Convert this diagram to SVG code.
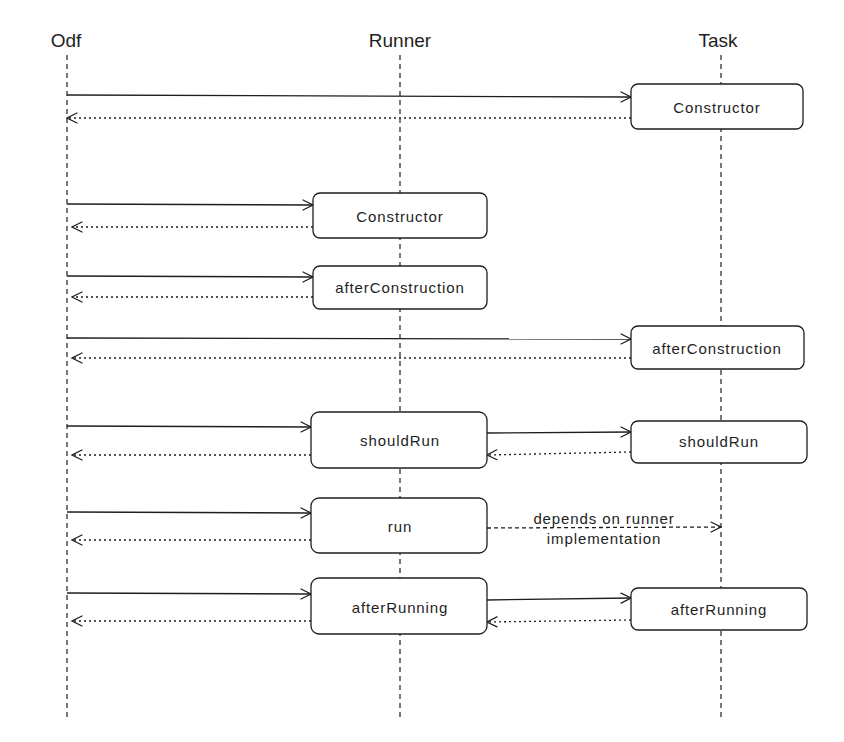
<svg xmlns="http://www.w3.org/2000/svg" width="844" height="742" viewBox="0 0 844 742">
<defs>
<marker id="ah" viewBox="0 0 12 12" markerWidth="12" markerHeight="12" refX="11" refY="6" orient="auto" markerUnits="userSpaceOnUse">
<path d="M1,1 L11,6 L1,11" fill="none" stroke="#1e1e1e" stroke-width="1.2" stroke-linecap="round"/>
</marker>
</defs>
<style>
.life{stroke:#1e1e1e;stroke-width:1.2;stroke-dasharray:5 4;fill:none}
.box{fill:#ffffff;stroke:#1e1e1e;stroke-width:1.3}
.call{stroke:#1e1e1e;stroke-width:1.3;fill:none;marker-end:url(#ah)}
.ret{stroke:#1e1e1e;stroke-width:1.3;fill:none;stroke-dasharray:2 3;marker-end:url(#ah)}
.dash{stroke:#1e1e1e;stroke-width:1.3;fill:none;stroke-dasharray:4 3;marker-end:url(#ah)}
.t{font-family:"Liberation Sans",Arial,sans-serif;font-size:15px;letter-spacing:0.9px;fill:#1e1e1e;text-anchor:middle;dominant-baseline:central}
.h{font-family:"Liberation Sans",Arial,sans-serif;font-size:19px;fill:#1e1e1e;text-anchor:middle;dominant-baseline:central}
</style>
<rect width="844" height="742" fill="#ffffff"/>
<g id="lifelines">
<g id="odf"><text class="h" x="66" y="40">Odf</text><line class="life" x1="67" y1="55" x2="67" y2="717"/></g>
<g id="runner"><text class="h" x="400" y="40">Runner</text><line class="life" x1="400" y1="55" x2="400" y2="717"/></g>
<g id="task"><text class="h" x="718" y="40">Task</text><line class="life" x1="721" y1="55" x2="721" y2="717"/></g>
</g>
<g id="connectors">
<line class="call" x1="67" y1="95" x2="631" y2="97"/>
<line class="ret" x1="631" y1="118" x2="67" y2="118"/>
<line class="call" x1="67" y1="204" x2="313" y2="205"/>
<line class="ret" x1="313" y1="227" x2="72" y2="227"/>
<line class="call" x1="67" y1="276" x2="313" y2="277"/>
<line class="ret" x1="313" y1="297" x2="72" y2="297"/>
<line class="call" x1="67" y1="338" x2="631" y2="339"/>
<line class="ret" x1="631" y1="358" x2="72" y2="358"/>
<line class="call" x1="67" y1="426" x2="311" y2="427"/>
<line class="ret" x1="311" y1="455" x2="72" y2="455"/>
<line class="call" x1="487" y1="433" x2="631" y2="432"/>
<line class="ret" x1="631" y1="452" x2="487" y2="455"/>
<line class="call" x1="67" y1="512" x2="311" y2="513"/>
<line class="ret" x1="311" y1="540" x2="72" y2="540"/>
<line class="dash" x1="487" y1="528" x2="721" y2="527"/>
<text class="t" x="604" y="518">depends on runner</text>
<text class="t" x="604" y="538">implementation</text>
<line class="call" x1="67" y1="593" x2="311" y2="594"/>
<line class="ret" x1="311" y1="621" x2="72" y2="621"/>
<line class="call" x1="487" y1="600" x2="631" y2="598"/>
<line class="ret" x1="631" y1="620" x2="487" y2="622"/>
</g>
<g id="task-constructor"><rect class="box" x="631" y="84" width="172" height="45" rx="7"/><text class="t" x="717" y="107">Constructor</text></g>
<g id="runner-constructor"><rect class="box" x="313" y="193" width="174" height="45" rx="7"/><text class="t" x="400" y="216">Constructor</text></g>
<g id="runner-afterconstruction"><rect class="box" x="313" y="266" width="174" height="43" rx="7"/><text class="t" x="400" y="287">afterConstruction</text></g>
<g id="task-afterconstruction"><rect class="box" x="631" y="326" width="173" height="43" rx="7"/><text class="t" x="717" y="348">afterConstruction</text></g>
<g id="runner-shouldrun"><rect class="box" x="311" y="412" width="176" height="56" rx="8"/><text class="t" x="400" y="440">shouldRun</text></g>
<g id="task-shouldrun"><rect class="box" x="631" y="421" width="176" height="42" rx="7"/><text class="t" x="719" y="441">shouldRun</text></g>
<g id="runner-run"><rect class="box" x="311" y="498" width="176" height="55" rx="8"/><text class="t" x="400" y="526">run</text></g>
<g id="runner-afterrunning"><rect class="box" x="311" y="578" width="176" height="56" rx="8"/><text class="t" x="400" y="607">afterRunning</text></g>
<g id="task-afterrunning"><rect class="box" x="631" y="588" width="176" height="42" rx="7"/><text class="t" x="719" y="609">afterRunning</text></g>
</svg>
